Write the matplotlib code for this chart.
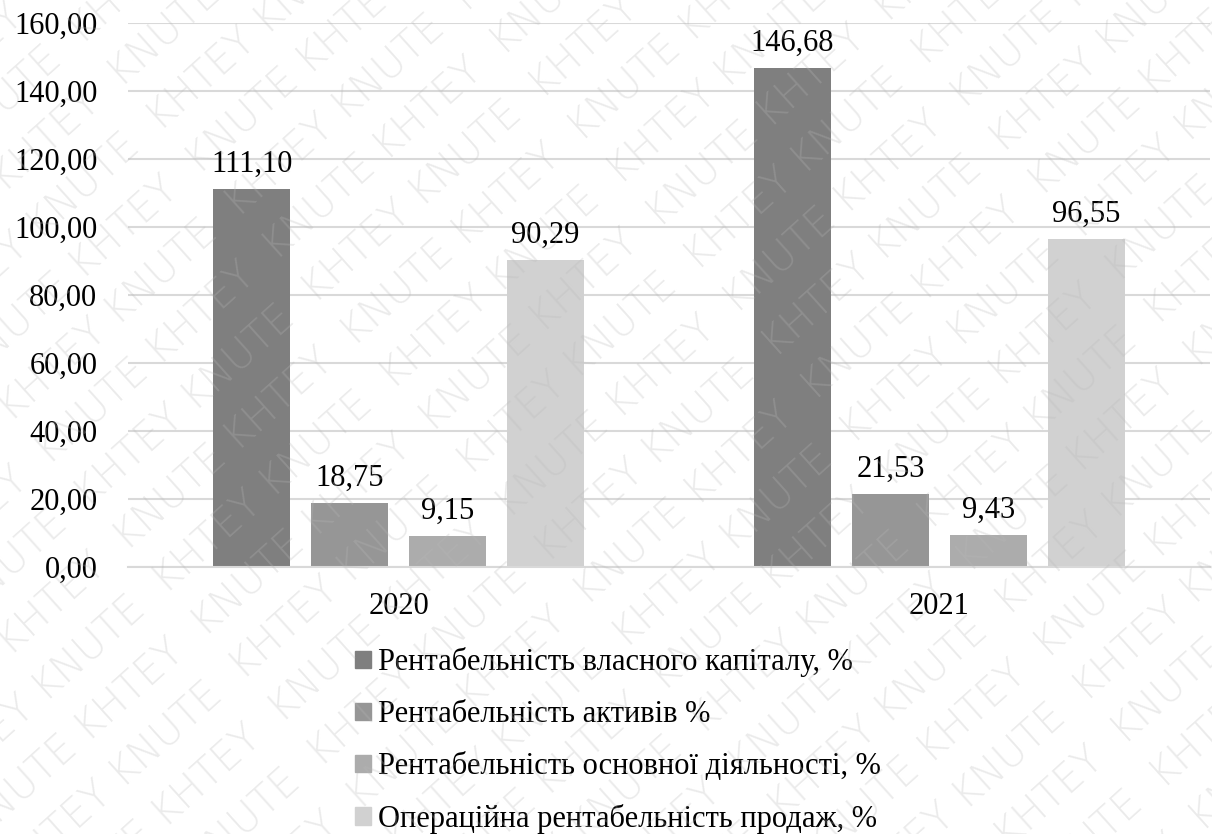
import numpy as np
import matplotlib
matplotlib.use("Agg")
import matplotlib.pyplot as plt
import matplotlib.patches as mpatches

# Profitability indicators, %
years = ["2020", "2021"]
series_names = [
    "Рентабельність власного капіталу, %",
    "Рентабельність активів %",
    "Рентабельність основної діяльності, %",
    "Операційна рентабельність продаж, %",
]
values_2020 = [111.10, 18.75, 9.15, 90.29]
values_2021 = [146.68, 21.53, 9.43, 96.55]
y_ticks = [0, 20, 40, 60, 80, 100, 120, 140, 160]

colors = ["#7f7f7f", "#969696", "#acacac", "#d1d1d1"]

plt.rcParams.update({
    "font.family": "serif",
    "font.serif": ["Liberation Serif", "DejaVu Serif"],
    "font.size": 22,
})

fig = plt.figure(figsize=(12.12, 8.34), dpi=100, facecolor="white")
ax = fig.add_axes([128 / 1212, 1 - 567 / 834, (1210 - 128) / 1212, (567 - 23) / 834])

data = np.array([values_2020, values_2021])
x = np.arange(len(years))
width = 0.142
step = 0.181
for i, name in enumerate(series_names):
    pos = x + (i - 1.5) * step
    bars = ax.bar(pos, data[:, i], width=width, color=colors[i], label=name, zorder=2)
    for b, v in zip(bars, data[:, i]):
        ax.text(b.get_x() + b.get_width() / 2, v + 3, f"{v:.2f}".replace(".", ","),
                ha="center", va="bottom", fontsize=22, zorder=3)

ax.set_xlim(-0.5, 1.5)
ax.set_ylim(0, 160)
ax.set_yticks(y_ticks)
ax.set_yticklabels([f"{t:.2f}".replace(".", ",") for t in y_ticks])
ax.set_xticks(x)
ax.set_xticklabels(years)
ax.yaxis.grid(True, color="#d9d9d9", linewidth=1.5, zorder=0)
ax.set_axisbelow(True)
for s in ["top", "right", "left"]:
    ax.spines[s].set_visible(False)
ax.spines["bottom"].set_color("#d9d9d9")
ax.spines["bottom"].set_linewidth(1.5)
ax.tick_params(axis="both", length=0, labelsize=22)
ax.tick_params(axis="y", pad=22)
ax.tick_params(axis="x", pad=18)

handles = [mpatches.Patch(color=c, label=n) for c, n in zip(colors, series_names)]
fig.legend(handles=handles, loc="upper left", bbox_to_anchor=(343 / 1212, 1 - 635 / 834),
           frameon=False, fontsize=22, handlelength=0.5, handleheight=0.5,
           handletextpad=0.25, labelspacing=0.75, borderaxespad=0)

# diagonal watermark over the whole sheet
wm = fig.add_axes([0, 0, 1, 1], zorder=10)
wm.set_xlim(0, 1212)
wm.set_ylim(0, 834)
wm.axis("off")
ang = 42
dx, dy = np.cos(np.radians(ang)), np.sin(np.radians(ang))
nx, ny = -dy, dx
line_a = "  ".join(["KHTEY KNUTE"] * 7)
line_b = "  ".join(["KNUTE KHTEY"] * 7)
for k in range(-18, 19):
    ox, oy = 606 + nx * k * 58, 417 + ny * k * 58
    wm.text(ox, oy, line_a if k % 2 else line_b, rotation=ang, ha="center", va="center",
            fontsize=29, family="DejaVu Sans", fontweight="light", color="#b8b8b8",
            alpha=0.28, rotation_mode="anchor")

fig.savefig("out.png", dpi=100, facecolor="white")
